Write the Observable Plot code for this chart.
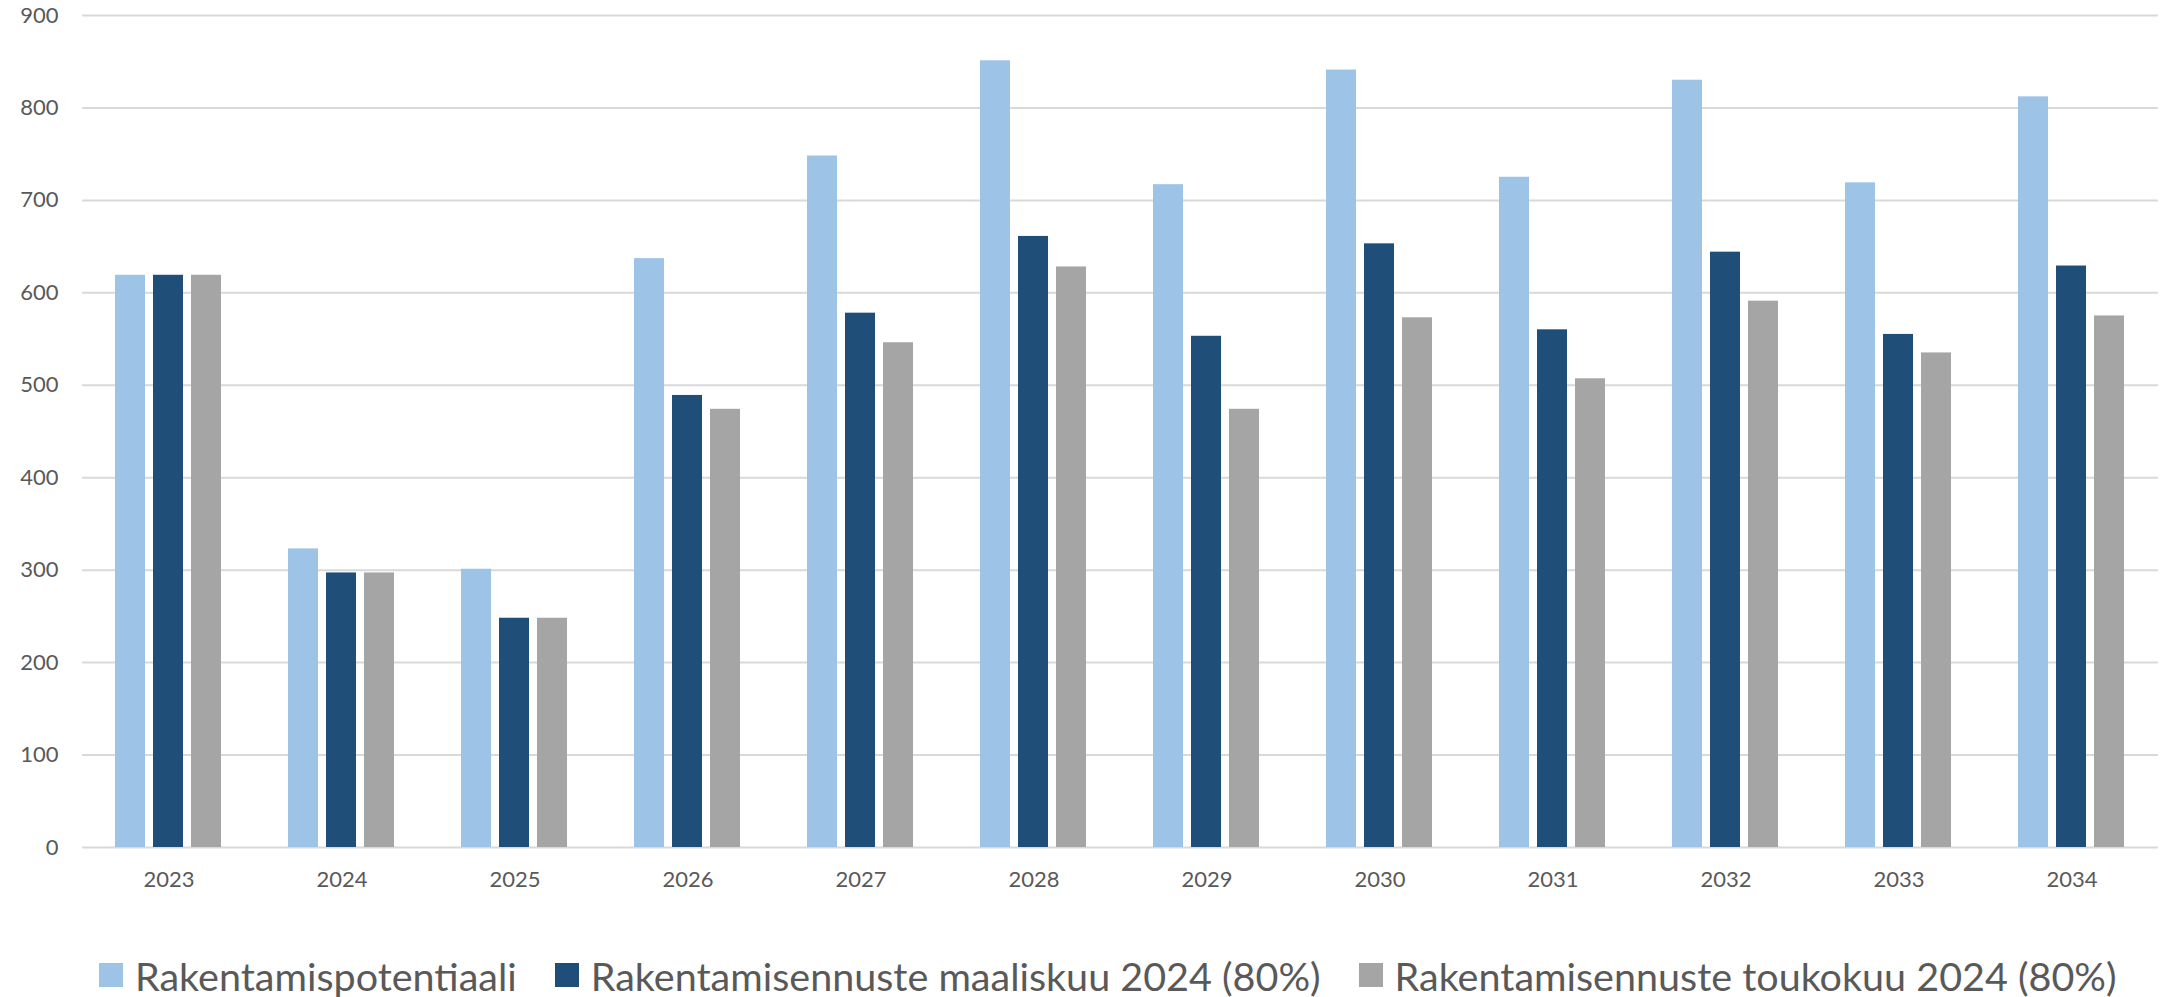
<!DOCTYPE html>
<html>
<head>
<meta charset="utf-8">
<script src="https://cdn.jsdelivr.net/npm/d3@7"></script>
<script src="https://cdn.jsdelivr.net/npm/@observablehq/plot@0.6"></script>
<style>
  html, body { margin: 0; padding: 0; background: #fff; overflow: hidden; }
  #chart svg { display: block; }
  .legend { display: flex; align-items: center; height: 50px; padding-top: 50px; padding-left: 99px;
            font-family: Lato, "Open Sans", sans-serif; font-size: 39.5px; color: #595959; white-space: nowrap; }
  .legend .item { display: flex; align-items: center; margin-right: 38px; }
  .legend .sw { width: 24px; height: 24px; margin-right: 12px; flex: none; }
</style>
</head>
<body>
<div id="chart"></div>
<div class="legend" id="legend"></div>
<script>
const years = ["2023","2024","2025","2026","2027","2028","2029","2030","2031","2032","2033","2034"];
const seriesNames = ["Rakentamispotentiaali", "Rakentamisennuste maaliskuu 2024 (80%)", "Rakentamisennuste toukokuu 2024 (80%)"];
const potentiaali = [619, 323, 301, 637, 748, 851, 717, 841, 725, 830, 719, 812];
const maaliskuu   = [619, 297, 248, 489, 578, 661, 553, 653, 560, 644, 555, 629];
const toukokuu    = [619, 297, 248, 474, 546, 628, 474, 573, 507, 591, 535, 575];
const colors = ["#9DC3E6", "#1F4E79", "#A5A5A5"];
const yTicks = [0, 100, 200, 300, 400, 500, 600, 700, 800, 900];

const seriesValues = [potentiaali, maaliskuu, toukokuu];
const data = years.flatMap((yr, i) => seriesNames.map((s, j) => ({year: yr, series: s, value: seriesValues[j][i]})));

const chart = Plot.plot({
  width: 2164,
  height: 900,
  marginLeft: 78,
  marginRight: 2,
  marginTop: 15,
  marginBottom: 53,
  style: {fontFamily: "Lato, 'Open Sans', sans-serif", fontSize: "22px", color: "#595959", background: "white"},
  fx: {domain: years, padding: 0, label: null},
  x: {domain: seriesNames, paddingInner: 0.21, paddingOuter: 0.87, axis: null},
  y: {domain: [0, 900], label: null},
  color: {domain: seriesNames, range: colors},
  marks: [
    Plot.gridY(yTicks, {stroke: "#d9d9d9", strokeWidth: 2, strokeOpacity: 1}),
    Plot.barY(data, {fx: "year", x: "series", y: "value", fill: "series"}),
    Plot.axisY(yTicks, {tickSize: 0, tickPadding: 24, fontSize: 22, label: null}),
    Plot.axisFx({anchor: "bottom", tickSize: 0, tickPadding: 24, fontSize: 22, label: null})
  ]
});
document.getElementById("chart").appendChild(chart);

const legend = document.getElementById("legend");
seriesNames.forEach((s, j) => {
  const item = document.createElement("div");
  item.className = "item";
  const sw = document.createElement("span");
  sw.className = "sw";
  sw.style.background = colors[j];
  const label = document.createElement("span");
  label.textContent = s;
  item.appendChild(sw);
  item.appendChild(label);
  legend.appendChild(item);
});
</script>
</body>
</html>
